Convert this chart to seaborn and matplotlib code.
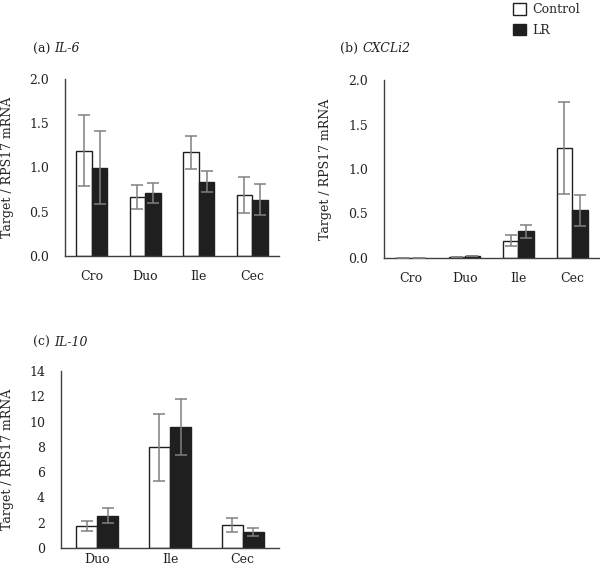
import numpy as np
import pandas as pd
import matplotlib
matplotlib.use("Agg")
import matplotlib.pyplot as plt
import seaborn as sns
from matplotlib.patches import Patch

# Panel data (mean, sd)
groups = ["Control", "LR"]

il6_sites = ["Cro", "Duo", "Ile", "Cec"]
il6_control = [1.19, 0.67, 1.17, 0.69]
il6_control_sd = [0.40, 0.135, 0.185, 0.205]
il6_lr = [1.00, 0.71, 0.84, 0.635]
il6_lr_sd = [0.41, 0.115, 0.115, 0.177]

cxcli2_sites = ["Cro", "Duo", "Ile", "Cec"]
cxcli2_control = [0.002, 0.01, 0.195, 1.236]
cxcli2_control_sd = [0.0, 0.0, 0.065, 0.52]
cxcli2_lr = [0.002, 0.025, 0.30, 0.535]
cxcli2_lr_sd = [0.0, 0.0, 0.075, 0.17]

il10_sites = ["Duo", "Ile", "Cec"]
il10_control = [1.76, 7.96, 1.81]
il10_control_sd = [0.38, 2.65, 0.53]
il10_lr = [2.55, 9.58, 1.26]
il10_lr_sd = [0.60, 2.2, 0.33]

sns.set_theme(style="white")
plt.rcParams["font.family"] = ["DejaVu Serif"]

TXT = "#222222"
fig = plt.figure(figsize=(6.0, 5.66), dpi=100)
W, H = 600, 566


def px_axes(left, right, top, bottom):
    return fig.add_axes([left / W, 1 - bottom / H, (right - left) / W, (bottom - top) / H])


def draw_panel(ax, sites, ctrl, ctrl_sd, lr, lr_sd, ymax, yticks, fmt):
    df = pd.DataFrame({
        "site": sites * 2,
        "group": ["Control"] * len(sites) + ["LR"] * len(sites),
        "value": ctrl + lr,
    })
    sns.barplot(data=df, x="site", y="value", hue="group", order=sites,
                hue_order=groups, palette={"Control": "white", "LR": "#1f1f1f"},
                edgecolor="#1f1f1f", linewidth=1.0, width=0.58, errorbar=None,
                legend=False, ax=ax)
    # error bars at the bar centres seaborn placed
    for cont, sd, m in zip(ax.containers, [ctrl_sd, lr_sd], [ctrl, lr]):
        xs = [p.get_x() + p.get_width() / 2 for p in cont.patches]
        ax.errorbar(xs, m, yerr=sd, fmt="none", ecolor="#808080",
                    elinewidth=1.1, capsize=4.2, capthick=1.1, zorder=3)
    ax.set_xlim(-0.5, len(sites) - 0.5)
    ax.set_ylim(0, ymax)
    ax.set_yticks(yticks)
    ax.set_yticklabels([fmt.format(t) for t in yticks])
    ax.set_xlabel("")
    ax.set_ylabel("Target / RPS17 mRNA", fontsize=9, color=TXT)
    ax.tick_params(axis="both", length=0, labelsize=9, colors=TXT)
    ax.tick_params(axis="y", pad=11.5)
    ax.tick_params(axis="x", pad=10)
    for s in ["top", "right"]:
        ax.spines[s].set_visible(False)
    for s in ["left", "bottom"]:
        ax.spines[s].set_color("#404040")
        ax.spines[s].set_linewidth(1.0)


def panel_title(x, y, tag, gene):
    t = fig.text(x / W, 1 - y / H, tag, fontsize=9, va="center", color=TXT)
    fig.add_artist(plt.Annotation(gene, xy=(1, 0.5), xycoords=t, xytext=(3, 0),
                                  textcoords="offset points", va="center",
                                  fontsize=9, style="italic", color=TXT))


ax_a = px_axes(65, 279, 79, 256)
draw_panel(ax_a, il6_sites, il6_control, il6_control_sd, il6_lr, il6_lr_sd,
           2.0, [0.0, 0.5, 1.0, 1.5, 2.0], "{:.1f}")
ax_a.yaxis.set_label_coords(-51 / 214, 0.5)

ax_b = px_axes(384, 599, 80, 258)
draw_panel(ax_b, cxcli2_sites, cxcli2_control, cxcli2_control_sd, cxcli2_lr, cxcli2_lr_sd,
           2.0, [0.0, 0.5, 1.0, 1.5, 2.0], "{:.1f}")
ax_b.yaxis.set_label_coords(-52 / 215, 0.5)

ax_c = px_axes(61, 279, 371, 548)
draw_panel(ax_c, il10_sites, il10_control, il10_control_sd, il10_lr, il10_lr_sd,
           14, list(range(0, 15, 2)), "{:d}")
ax_c.tick_params(axis="x", pad=3.5)
ax_c.yaxis.set_label_coords(-47 / 218, 0.5)

panel_title(33, 49, "(a)", "IL-6")
panel_title(340, 48, "(b)", "CXCLi2")
panel_title(33, 342, "(c)", "IL-10")

handles = [Patch(facecolor="white", edgecolor="#1f1f1f", label="Control"),
           Patch(facecolor="#1f1f1f", edgecolor="#1f1f1f", label="LR")]
fig.legend(handles=handles, loc="upper left", bbox_to_anchor=(502 / W, 1 + 8 / H),
           frameon=False, fontsize=9, handlelength=1.0, handleheight=1.0,
           handletextpad=0.5, labelspacing=0.6)

fig.savefig("out.png", dpi=100, facecolor="white")
